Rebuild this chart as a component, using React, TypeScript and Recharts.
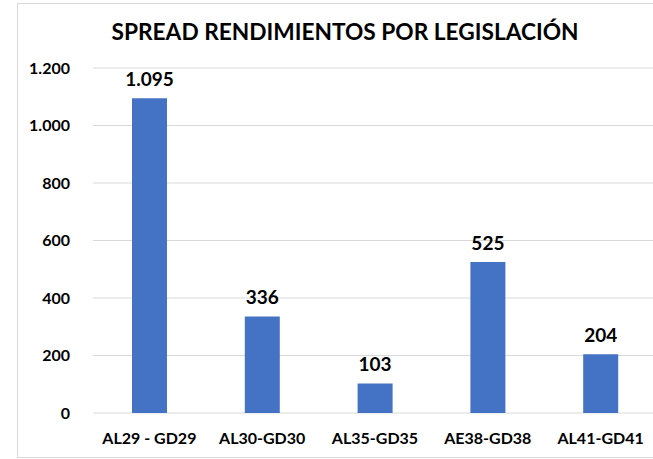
import { BarChart, Bar, XAxis, YAxis, CartesianGrid, LabelList } from 'recharts'

const categories = ['AL29 - GD29', 'AL30-GD30', 'AL35-GD35', 'AE38-GD38', 'AL41-GD41']
const spreads = [1095, 336, 103, 525, 204]
const yTicks = [0, 200, 400, 600, 800, 1000, 1200]

const data = categories.map((name, i) => ({ name, spread: spreads[i] }))

const FONT = 'Lato, sans-serif'

// miles con punto, como en el original
const fmt = (v: number) => v.toString().replace(/\B(?=(\d{3})+(?!\d))/g, '.')

export default function App() {
  return (
    <div
      style={{
        position: 'fixed',
        left: 0,
        top: 0,
        width: 653,
        height: 459,
        overflow: 'hidden',
        background: '#fff',
      }}
    >
      <div
        style={{
          position: 'absolute',
          left: 17,
          top: 3,
          width: 700,
          height: 453,
          border: '1px solid #d9d9d9',
        }}
      />
      <div style={{ position: 'absolute', left: 0, top: 0 }}>
        <BarChart
          width={680}
          height={459}
          data={data}
          margin={{ top: 68, right: 23, bottom: 16, left: 0 }}
        >
          <CartesianGrid horizontal vertical={false} stroke="#d9d9d9" strokeWidth={1} />
          <XAxis
            dataKey="name"
            axisLine={false}
            tickLine={false}
            tickSize={0}
            tickMargin={20}
            height={30}
            interval={0}
            tick={{ fill: '#000', fontFamily: FONT, fontWeight: 700, fontSize: 16 }}
          />
          <YAxis
            domain={[0, 1200]}
            ticks={yTicks}
            width={93}
            axisLine={false}
            tickLine={false}
            tickSize={0}
            tickMargin={23}
            tickFormatter={fmt}
            tick={{ fill: '#000', fontFamily: FONT, fontWeight: 700, fontSize: 16 }}
          />
          <Bar dataKey="spread" fill="#4472C4" barSize={35} isAnimationActive={false}>
            <LabelList
              dataKey="spread"
              position="top"
              offset={12}
              formatter={(v: any) => fmt(Number(v))}
              style={{ fill: '#000', fontFamily: FONT, fontWeight: 700, fontSize: 19 }}
            />
          </Bar>
        </BarChart>
      </div>
      <svg
        width={653}
        height={60}
        style={{ position: 'absolute', left: 0, top: 0, pointerEvents: 'none' }}
      >
        <text
          x={345}
          y={40}
          textAnchor="middle"
          fontFamily={FONT}
          fontWeight={700}
          fontSize={22.7}
          fill="#000"
        >
          SPREAD RENDIMIENTOS POR LEGISLACIÓN
        </text>
      </svg>
    </div>
  )
}
